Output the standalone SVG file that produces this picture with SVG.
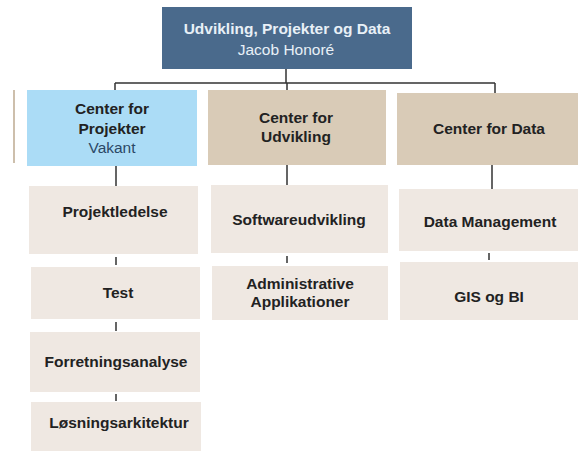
<svg xmlns="http://www.w3.org/2000/svg" width="578" height="451" viewBox="0 0 578 451">
<style>
text{font-family:"Liberation Sans",Arial,sans-serif;text-anchor:middle;font-size:15.5px}
.b{font-weight:bold;fill:#222}
.w{fill:#e8f0f7}
.sub{fill:#efe8e2}
.tan{fill:#d9cbb7}
.c{stroke:#333;stroke-width:1.5;fill:none}
</style>
<rect width="578" height="451" fill="#fff"/>
<rect x="13" y="90" width="2" height="73" fill="#cdbfac"/>
<g id="connectors">
<path class="c" d="M286 68V83M115 83H495M115 83V90M287 83V90M495 83V93"/>
<path class="c" d="M116 166V186M116 257V265M116 322V331M116 394V401"/>
<path class="c" d="M287 165V185M287 256V263"/>
<path class="c" d="M492 165V189M489 253V260"/>
</g>
<g id="top">
<rect x="162" y="7" width="250" height="62" fill="#4a6a8c"/>
<text x="287" y="34" class="b w">Udvikling, Projekter og Data</text>
<text x="286" y="55" class="w">Jacob Honoré</text>
</g>
<g id="cp">
<rect x="27" y="90" width="170" height="76" fill="#abdcf6"/>
<text x="112" y="114" class="b">Center for</text>
<text x="112" y="134" class="b">Projekter</text>
<text x="112" y="153" style="fill:#2b4866">Vakant</text>
</g>
<g id="cu">
<rect x="208" y="90" width="178" height="75" class="tan"/>
<text x="296" y="123" class="b">Center for</text>
<text x="296" y="142" class="b">Udvikling</text>
</g>
<g id="cd">
<rect x="397" y="93" width="181" height="72" class="tan"/>
<text x="489" y="134" class="b">Center for Data</text>
</g>
<g id="p1"><rect x="29" y="186" width="169" height="68" class="sub"/><text x="115" y="217" class="b">Projektledelse</text></g>
<g id="p2"><rect x="31" y="267" width="169" height="52" class="sub"/><text x="118" y="298" class="b">Test</text></g>
<g id="p3"><rect x="30" y="332" width="170" height="60" class="sub"/><text x="116" y="367" class="b">Forretningsanalyse</text></g>
<g id="p4"><rect x="31" y="402" width="170" height="49" class="sub"/><text x="119" y="428" class="b">Løsningsarkitektur</text></g>
<g id="u1"><rect x="211" y="185" width="177" height="68" class="sub"/><text x="299" y="225" class="b">Softwareudvikling</text></g>
<g id="u2"><rect x="212" y="266" width="176" height="54" class="sub"/><text x="300" y="289" class="b">Administrative</text><text x="300" y="307" class="b">Applikationer</text></g>
<g id="d1"><rect x="399" y="189" width="179" height="62" class="sub"/><text x="490" y="227" class="b">Data Management</text></g>
<g id="d2"><rect x="400" y="262" width="178" height="58" class="sub"/><text x="489" y="302" class="b">GIS og BI</text></g>
</svg>
